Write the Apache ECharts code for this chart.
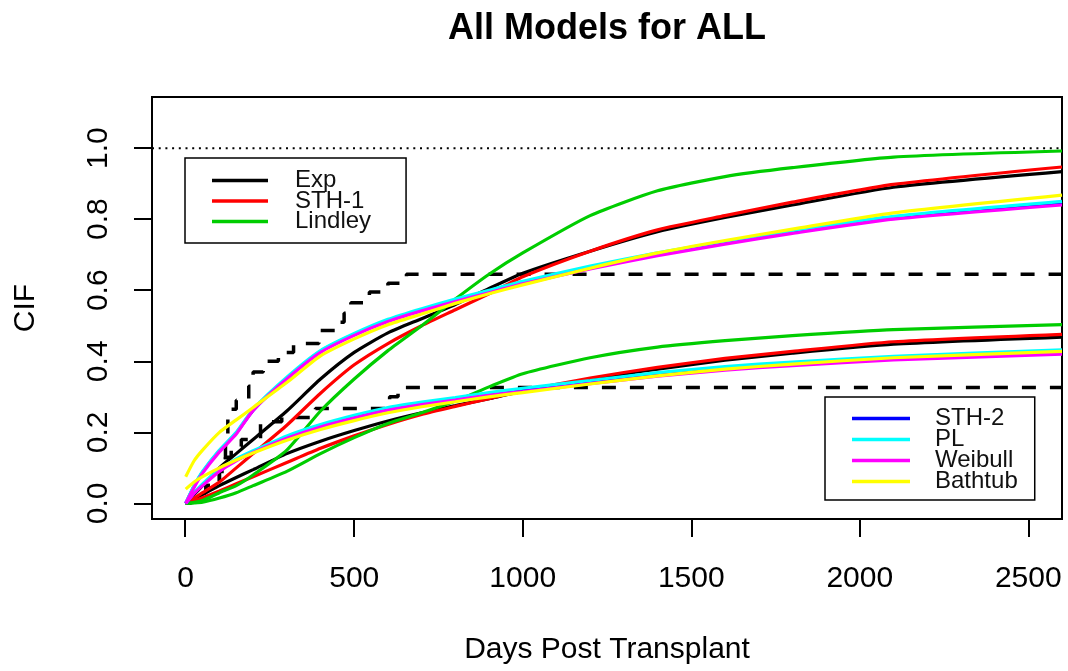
<!DOCTYPE html>
<html>
<head>
<meta charset="utf-8">
<script src="https://cdn.jsdelivr.net/npm/echarts@6/dist/echarts.min.js"></script>
<style>
  html, body { margin: 0; padding: 0; background: #ffffff; }
  #chart { width: 1068px; height: 671px; }
</style>
</head>
<body>
<div id="chart"></div>
<script>
// Evaluation days shared by every fitted CIF curve
const days = [0, 25, 50, 100, 150, 200, 300, 400, 500, 600, 700, 800, 900, 1000, 1200, 1400, 1600, 1800, 2100, 2600];

// Fitted CIFs, upper family of curves
const expA     = [0, 0.025, 0.05, 0.10, 0.14, 0.18, 0.26, 0.35, 0.425, 0.48, 0.52, 0.56, 0.605, 0.648, 0.71, 0.765, 0.805, 0.84, 0.89, 0.934];
const sth1A    = [0, 0.015, 0.03, 0.06, 0.10, 0.14, 0.22, 0.31, 0.39, 0.45, 0.50, 0.545, 0.59, 0.638, 0.71, 0.77, 0.81, 0.848, 0.898, 0.947];
const lindleyA = [0, 0.003, 0.008, 0.03, 0.05, 0.08, 0.15, 0.26, 0.35, 0.43, 0.50, 0.575, 0.645, 0.705, 0.81, 0.88, 0.92, 0.945, 0.975, 0.992];
const sth2A    = [0, 0.048, 0.088, 0.148, 0.198, 0.262, 0.352, 0.428, 0.476, 0.515, 0.545, 0.572, 0.597, 0.622, 0.665, 0.702, 0.735, 0.765, 0.805, 0.846];
const plA      = [0, 0.05, 0.09, 0.15, 0.20, 0.265, 0.355, 0.43, 0.478, 0.518, 0.548, 0.575, 0.60, 0.625, 0.668, 0.705, 0.738, 0.768, 0.808, 0.85];
const weibullA = [0, 0.045, 0.085, 0.145, 0.195, 0.262, 0.35, 0.425, 0.473, 0.512, 0.542, 0.568, 0.593, 0.618, 0.66, 0.697, 0.73, 0.76, 0.80, 0.84];
const bathtubA = [0.075, 0.12, 0.15, 0.20, 0.235, 0.27, 0.34, 0.415, 0.463, 0.503, 0.533, 0.563, 0.59, 0.615, 0.662, 0.705, 0.74, 0.772, 0.818, 0.868];

// Fitted CIFs, lower family of curves
const expB     = [0, 0.013, 0.025, 0.05, 0.073, 0.095, 0.14, 0.175, 0.205, 0.232, 0.255, 0.275, 0.295, 0.315, 0.35, 0.378, 0.403, 0.423, 0.448, 0.468];
const sth1B    = [0, 0.008, 0.016, 0.035, 0.055, 0.075, 0.115, 0.155, 0.19, 0.222, 0.25, 0.273, 0.295, 0.317, 0.353, 0.383, 0.408, 0.428, 0.455, 0.476];
const lindleyB = [0, 0.001, 0.003, 0.015, 0.03, 0.05, 0.09, 0.14, 0.185, 0.225, 0.255, 0.288, 0.328, 0.365, 0.41, 0.44, 0.458, 0.472, 0.489, 0.503];
const sth2B    = [0, 0.029, 0.052, 0.092, 0.122, 0.145, 0.186, 0.218, 0.244, 0.266, 0.282, 0.295, 0.308, 0.32, 0.342, 0.364, 0.381, 0.394, 0.41, 0.428];
const plB      = [0, 0.03, 0.055, 0.095, 0.125, 0.148, 0.19, 0.222, 0.248, 0.27, 0.285, 0.298, 0.312, 0.324, 0.346, 0.368, 0.385, 0.398, 0.414, 0.432];
const weibullB = [0, 0.028, 0.05, 0.09, 0.12, 0.143, 0.183, 0.215, 0.24, 0.262, 0.278, 0.291, 0.304, 0.315, 0.337, 0.358, 0.375, 0.388, 0.404, 0.42];
const bathtubB = [0.04, 0.06, 0.075, 0.10, 0.122, 0.142, 0.178, 0.208, 0.233, 0.255, 0.272, 0.286, 0.30, 0.312, 0.336, 0.359, 0.378, 0.392, 0.41, 0.428];

// Nonparametric (empirical) step CIFs
const stepDaysA = [0, 15, 45, 60, 100, 118, 125, 150, 187, 200, 230, 275, 320, 395, 458, 470, 490, 545, 600, 655, 2600];
const stepCifA  = [0, 0.01, 0.03, 0.05, 0.10, 0.19, 0.265, 0.29, 0.33, 0.37, 0.40, 0.425, 0.45, 0.487, 0.51, 0.535, 0.565, 0.595, 0.62, 0.645, 0.645];
const stepDaysB = [0, 15, 45, 60, 100, 118, 135, 165, 222, 285, 385, 605, 630, 2600];
const stepCifB  = [0, 0.01, 0.03, 0.05, 0.09, 0.13, 0.16, 0.18, 0.23, 0.242, 0.267, 0.30, 0.326, 0.326];

// Axis ticks
const xTicks = [0, 500, 1000, 1500, 2000, 2500];
const yTicks = [0, 0.2, 0.4, 0.6, 0.8, 1.0];

const models = [
  { name: 'Exp',     color: '#000000', a: expA,     b: expB },
  { name: 'STH-1',   color: '#ff0000', a: sth1A,    b: sth1B },
  { name: 'Lindley', color: '#00cd00', a: lindleyA, b: lindleyB },
  { name: 'STH-2',   color: '#0000ff', a: sth2A,    b: sth2B },
  { name: 'PL',      color: '#00ffff', a: plA,      b: plB },
  { name: 'Weibull', color: '#ff00ff', a: weibullA, b: weibullB },
  { name: 'Bathtub', color: '#ffff00', a: bathtubA, b: bathtubB }
];

const pair = (xs, ys) => xs.map((x, i) => [x, ys[i]]);
const FONT = 'Liberation Sans, Arial, Helvetica, sans-serif';

const series = [];
// dotted reference line at CIF = 1
series.push({
  name: 'ref', type: 'line', symbol: 'none', silent: true,
  data: [[-100, 1], [2600, 1]],
  lineStyle: { color: '#000', width: 2, type: [2, 4.7] }
});
// empirical step functions
[[stepDaysA, stepCifA], [stepDaysB, stepCifB]].forEach(([xs, ys], k) => {
  series.push({
    name: 'empirical' + k, type: 'line', step: 'end', symbol: 'none', silent: true,
    data: pair(xs, ys),
    lineStyle: { color: '#000', width: 3.5, type: [14, 14] }
  });
});
// fitted model curves
models.forEach(m => {
  [m.a, m.b].forEach(vals => {
    series.push({
      name: m.name, type: 'line', symbol: 'none', smooth: 0.2, silent: true,
      color: m.color,
      data: pair(days, vals),
      lineStyle: { color: m.color, width: 3.2 }
    });
  });
});

const legendCommon = {
  orient: 'vertical', icon: 'rect', itemWidth: 56, itemHeight: 3.5,
  selectedMode: false, borderColor: '#000', borderWidth: 1.5, borderRadius: 0,
  textStyle: { fontFamily: FONT, fontSize: 24, lineHeight: 20, color: '#111', padding: [0, 0, 0, 22] }
};

const option = {
  animation: false,
  backgroundColor: '#ffffff',
  title: {
    text: 'All Models for ALL', left: 607, top: 11, textAlign: 'center', padding: 0,
    textStyle: { fontFamily: FONT, fontSize: 36, fontWeight: 'bold', color: '#000' }
  },
  legend: [
    Object.assign({}, legendCommon, {
      left: 185, top: 158, itemGap: -3.5, padding: [10.5, 35, 9.5, 27],
      data: ['Exp', 'STH-1', 'Lindley']
    }),
    Object.assign({}, legendCommon, {
      left: 825, top: 397, itemGap: -3, itemWidth: 58, padding: [9.5, 17, 6.5, 27],
      textStyle: Object.assign({}, legendCommon.textStyle, { padding: [0, 0, 0, 20] }),
      data: ['STH-2', 'PL', 'Weibull', 'Bathtub']
    })
  ],
  grid: [
    { left: 152, top: 97, right: 6, bottom: 152,
      show: true, borderColor: '#000', borderWidth: 2, backgroundColor: 'transparent' },
    // strip just below the plot frame spanning days 0..2500: its split lines are the outward tick marks
    { left: 185, top: 519, width: 844, height: 18, show: false }
  ],
  xAxis: [
    {
      gridIndex: 0, type: 'value', min: -100, max: 2600, position: 'bottom',
      name: 'Days Post Transplant', nameLocation: 'middle', nameGap: 116, nameMoveOverlap: false,
      nameTextStyle: { fontFamily: FONT, fontSize: 30, color: '#000' },
      axisLine: { show: false, onZero: false },
      splitLine: { show: false },
      axisTick: { show: false },
      axisLabel: { customValues: xTicks, margin: 45, fontFamily: FONT, fontSize: 30, color: '#000',
        formatter: v => String(v) }
    },
    {
      gridIndex: 1, type: 'value', min: 0, max: 2500, interval: 500,
      axisLine: { show: false },
      axisTick: { show: false },
      axisLabel: { show: false },
      splitLine: { show: true, lineStyle: { color: '#000', width: 2, type: 'solid' } }
    }
  ],
  yAxis: [
    {
      gridIndex: 0, type: 'value', min: -0.044, max: 1.144, position: 'left',
      name: 'CIF', nameLocation: 'middle', nameGap: 111, nameRotate: 90, nameMoveOverlap: false,
      nameTextStyle: { fontFamily: FONT, fontSize: 30, color: '#000' },
      axisLine: { show: false, onZero: false },
      splitLine: { show: false },
      axisTick: { show: true, inside: false, length: 18, customValues: yTicks, lineStyle: { color: '#000', width: 2 } },
      axisLabel: {
        customValues: yTicks, rotate: 90, margin: 38, fontFamily: FONT, fontSize: 30, color: '#000',
        formatter: v => v.toFixed(1)
      }
    },
    {
      gridIndex: 1, type: 'value', min: 0, max: 1,
      axisLine: { show: false },
      axisTick: { show: false },
      axisLabel: { show: false },
      splitLine: { show: false }
    }
  ],
  series: series
};

echarts.init(document.getElementById('chart'), null, { renderer: 'canvas' }).setOption(option);
</script>
</body>
</html>
